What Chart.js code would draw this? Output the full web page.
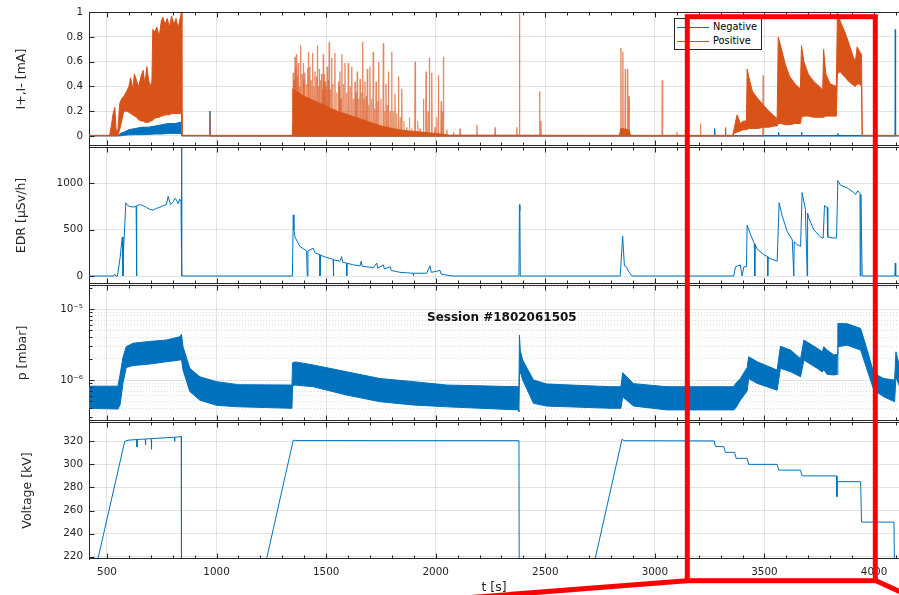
<!DOCTYPE html>
<html>
<head>
<meta charset="utf-8">
<script src="https://cdn.jsdelivr.net/npm/chart.js@4.4.1/dist/chart.umd.min.js"></script>
<style>
  html, body { margin: 0; padding: 0; background: #fff; }
  #wrap { position: relative; width: 899px; height: 595px; overflow: hidden; }
  canvas { position: absolute; left: 0; top: 0; }
  #session { position: absolute; left: 427px; top: 310px; font: bold 12px "DejaVu Sans", sans-serif; color: #111; white-space: nowrap; }
  #legend { position: absolute; left: 674px; top: 18px; width: 86px; height: 30px; border: 1px solid #262626; background: #fff; font: 9.8px "DejaVu Sans", sans-serif; color: #000; }
  #legend .item { position: absolute; left: 2px; height: 12px; line-height: 12px; white-space: nowrap; }
  #legend .swatch { display: inline-block; width: 32px; border-top: 1px solid; vertical-align: middle; margin-right: 4px; }
  #marker { position: absolute; left: 0; top: 0; pointer-events: none; }
</style>
</head>
<body>
<div id="wrap">
  <canvas id="pCurrent" width="899" height="595"></canvas>
  <canvas id="pEdr" width="899" height="595"></canvas>
  <canvas id="pPressure" width="899" height="595"></canvas>
  <canvas id="pVoltage" width="899" height="595"></canvas>
  <div id="session">Session #1802061505</div>
  <div id="legend">
    <div class="item" style="top:2px"><span class="swatch" style="border-color:#0072BD"></span>Negative</div>
    <div class="item" style="top:16px"><span class="swatch" style="border-color:#D95319"></span>Positive</div>
  </div>
  <svg id="marker" width="899" height="595">
    <line x1="687" y1="580.8" x2="455" y2="598.7" stroke="#ff0000" stroke-width="5"/>
    <line x1="876" y1="580.8" x2="912" y2="597" stroke="#ff0000" stroke-width="5"/>
    <rect x="687.3" y="16.7" width="188" height="564" fill="none" stroke="#ff0000" stroke-width="5"/>
  </svg>
</div>
<script>
const BLUE = "#0072BD";
const ORANGE = "#D95319";
const AXIS = "#262626";
const GRID = "rgba(38,38,38,0.13)";
const GRID_MINOR = "rgba(38,38,38,0.16)";
const FONT = "'DejaVu Sans', sans-serif";

// time axis
const T_MIN = 418;
const T_MAX = 4114;
const timeTicks = [500, 1000, 1500, 2000, 2500, 3000, 3500, 4000];

// tick labels per panel
const currentTicks = [0, 0.2, 0.4, 0.6, 0.8, 1];
const edrTicks = [0, 500, 1000];
const pressureTicks = [1e-6, 1e-5];
const pressureMinorTicks = [3e-7, 4e-7, 5e-7, 6e-7, 7e-7, 8e-7, 9e-7,
  2e-6, 3e-6, 4e-6, 5e-6, 6e-6, 7e-6, 8e-6, 9e-6, 2e-5];
const voltTicks = [220, 240, 260, 280, 300, 320];

// positive current: band (upper / lower envelope) [mA]
const posT = [418, 512, 520, 528, 536, 541, 549, 558, 567, 577, 590, 600, 608, 618, 625, 636, 645, 655, 665, 673,
  682, 690, 698, 705, 709, 718, 728, 738, 748, 755, 765, 775, 785, 795, 805, 815, 825, 835, 840, 842,
  1345, 1348, 1400, 1450, 1500, 1550, 1600, 1650, 1700, 1750, 1800, 1850, 1900, 2000, 2060, 2838, 2845, 2880, 2890, 3355,
  3362, 3375, 3390, 3405, 3418, 3421, 3428, 3445, 3470, 3495, 3520, 3545, 3558, 3563, 3575, 3595, 3615, 3640, 3664, 3669,
  3680, 3700, 3725, 3750, 3766, 3770, 3780, 3800, 3828, 3833, 3845, 3865, 3885, 3905, 3915, 3923, 3935, 3943, 3946, 4114];
const posHi = [.004, .004, .08, .18, .23, .06, .03, .26, .3, .32, .36, .4, .47, .38, .5, .44, .4, .48, .53, .42,
  .56, .45, .4, .44, .86, .84, .88, .8, .93, .96, .9, .95, .88, .97, .9, .95, .87, .96, 1.0, .004,
  .004, .38, .32, .28, .24, .2, .17, .14, .11, .08, .06, .045, .035, .02, .006, .004, .06, .05, .004, .004,
  .06, .17, .1, .12, .12, .54, .48, .36, .3, .25, .2, .16, .14, .8, .72, .58, .48, .42, .38, .73,
  .6, .5, .44, .4, .37, .7, .5, .42, .4, 1.0, .93, .85, .75, .64, .6, .72, .68, .66, .004, .004];
const posLo = [0, 0, 0, 0, 0, 0, 0, .05, .12, .2, .2, .19, .18, .17, .16, .15, .13, .12, .12, .11,
  .11, .11, .12, .12, .13, .14, .15, .15, .16, .16, .17, .17, .17, .18, .18, .18, .18, .18, .18, 0,
  0, 0, 0, 0, 0, 0, 0, 0, 0, 0, 0, 0, 0, 0, 0, 0, 0, 0, 0, 0,
  .02, .03, .04, .05, .05, .05, .06, .06, .06, .07, .07, .08, .08, .1, .1, .09, .09, .1, .1, .15,
  .16, .16, .15, .15, .15, .15, .16, .16, .16, .5, .52, .48, .44, .41, .4, .42, .42, .4, 0, 0];
// positive current: individual spikes [mA]
const posSpikeT = [970, 1350, 1358, 1365, 1373, 1384, 1396, 1403, 1419, 1426, 1438,
  1449, 1460, 1469, 1479, 1487, 1495, 1505, 1514, 1525, 1540,
  1556, 1563, 1572, 1586, 1601, 1617, 1632, 1642, 1655, 1667,
  1677, 1688, 1700, 1715, 1728, 1740, 1761, 1773, 1784, 1799,
  1814, 1830, 1845, 1868, 1891, 1906, 1929, 1944, 1956, 1971,
  1982, 1997, 2012, 2025, 2035, 2051, 2081, 2111, 2188, 2271,
  2370, 2382, 2474, 2480, 2845, 2854, 2865, 2876, 2882, 3034,
  3101, 3208, 3322, 3494];
const posSpikeV = [.18, .51, .64, .66, .59, .73, .59, .51, .68, .56, .67,
  .52, .73, .54, .50, .66, .44, .56, .76, .63, .67,
  .44, .52, .66, .59, .59, .56, .44, .52, .46, .76,
  .44, .54, .56, .68, .44, .60, .75, .42, .52, .68,
  .34, .48, .38, .07, .06, .60, .06, .30, .52, .63,
  .51, .07, .49, .28, .64, .05, .03, .06, .09, .07,
  .07, .99, .36, .12, .71, .68, .54, .54, .32, .45,
  .03, .10, .07, .49];
// positive current: smaller spikes in the dense stretch [mA]
const posMinorT = [1354, 1362, 1369, 1378, 1390, 1399, 1410, 1415, 1431, 1444,
  1455, 1465, 1474, 1483, 1491, 1500, 1510, 1519, 1531, 1548,
  1560, 1568, 1579, 1594, 1609, 1624, 1637, 1648, 1661, 1672,
  1683, 1694, 1707, 1721, 1734, 1750, 1767, 1779, 1792, 1806,
  1822, 1838, 1855, 1880, 1918, 1965, 2005, 2030];
const posMinorV = [.45, .55, .48, .40, .50, .45, .42, .55, .45, .40,
  .48, .40, .45, .38, .50, .40, .45, .38, .42, .35,
  .40, .30, .42, .35, .40, .30, .35, .30, .35, .30,
  .32, .25, .30, .22, .28, .30, .20, .25, .20, .20,
  .18, .15, .12, .15, .12, .20, .15, .20];

// negative current [mA]
const negT = [418, 555, 560, 577, 600, 630, 660, 690, 720, 750, 780, 810, 838, 841, 1345, 1348, 1380, 1430, 1500, 1580, 1680, 1800, 1960, 1990, 4114];
const negHi = [.003, .003, .02, .03, .05, .06, .07, .07, .08, .09, .1, .1, .11, .003, .003, .085, .07, .05, .035, .02, .012, .008, .004, .003, .003];
const negLo = [0, 0, 0, .005, .008, .01, .01, .012, .015, .015, .02, .02, .02, 0, 0, 0, 0, 0, 0, 0, 0, 0, 0, 0, 0];
const negSpikeT = [970, 2845, 3273, 3322, 3565, 3670, 3835, 4097];
const negSpikeV = [.2, .05, .06, .06, .03, .03, .02, .86];

// EDR [uSv/h]
const edrT = [418, 530, 535, 540, 548, 560, 570, 573, 576, 586, 595, 604, 619, 633, 634, 636, 637, 650, 665, 680,
  695, 710, 725, 741, 756, 771, 779, 790, 802, 810, 817, 825, 832, 838, 840, 842,
  1346, 1350, 1353, 1358, 1380, 1411, 1414, 1417, 1441, 1449, 1471, 1472, 1474, 1502, 1532, 1533, 1535, 1563, 1571, 1575,
  1593, 1594, 1596, 1625, 1655, 1660, 1665, 1716, 1731, 1736, 1761, 1766, 1792, 1797, 1837, 1897, 1898, 1900, 1959, 1974,
  1980, 2020, 2025, 2051, 2081,
  2380, 2382, 2384, 2386, 2842, 2853, 2861, 2870, 2880, 2896,
  3360, 3368, 3390, 3398, 3406, 3418, 3421, 3436, 3454, 3456, 3457, 3467, 3497, 3514, 3515, 3517, 3535, 3558, 3567, 3581,
  3604, 3627, 3634, 3636, 3649, 3665, 3672, 3687, 3695, 3697, 3703, 3725, 3756, 3768, 3774, 3786, 3789, 3817, 3829, 3835,
  3847, 3878, 3908, 3916, 3926, 3936, 3937, 3940, 3946, 4095, 4097, 4099, 4114];
const edrV = [0, 0, 20, 0, 0, 200, 420, 0, 300, 790, 760, 750, 745, 750, 0, 0, 760, 770, 760, 740,
  720, 710, 730, 740, 760, 770, 860, 770, 800, 840, 820, 780, 830, 800, 1392, 0,
  0, 660, 500, 420, 320, 270, 0, 270, 300, 250, 230, 0, 225, 200, 180, 0, 175, 160, 210, 150,
  140, 0, 138, 120, 110, 160, 105, 90, 140, 85, 120, 75, 100, 60, 40, 30, 0, 30, 30, 110,
  40, 60, 20, 10, 0,
  0, 770, 700, 0, 0, 430, 110, 100, 50, 0,
  0, 100, 120, 0, 100, 100, 550, 450, 350, 0, 340, 290, 230, 210, 0, 200, 180, 160, 790, 650,
  480, 390, 0, 370, 340, 320, 900, 720, 0, 680, 620, 500, 420, 410, 760, 740, 420, 410, 410, 1030,
  980, 950, 900, 880, 920, 890, 0, 880, 0, 0, 140, 0, 0];

// pressure band [mbar]
const presT = [418, 550, 560, 573, 588, 619, 695, 771, 832, 840,
  847, 878, 924, 1000, 1100, 1344, 1347, 1360, 1441, 1593,
  1746, 1898, 2051, 2378, 2380, 2382, 2386, 2397, 2446, 2507,
  2800, 2845, 2853, 2903, 3055, 3360, 3368, 3390, 3421, 3428,
  3467, 3558, 3573, 3619, 3665, 3680, 3741, 3764, 3771, 3786,
  3817, 3832, 3835, 3878, 3939, 3969, 3999, 4045, 4094, 4100, 4117];
const presHi = [8.2e-7, 8.2e-7, 1.2e-6, 2.1e-6, 2.95e-6, 3.3e-6, 3.5e-6, 3.66e-6, 4.07e-6, 4.4e-6,
  2.95e-6, 1.46e-6, 1.11e-6, 9.5e-7, 8.6e-7, 8.5e-7, 1.75e-6, 1.8e-6, 1.63e-6, 1.31e-6,
  1.05e-6, 9.5e-7, 8.5e-7, 8.05e-7, 8e-7, 4.3e-6, 2.6e-6, 1.91e-6, 1.0e-6, 8.8e-7,
  8.05e-7, 8.05e-7, 1.27e-6, 8.9e-7, 8.05e-7, 8.05e-7, 8.9e-7, 1.05e-6, 1.5e-6, 2.13e-6,
  1.81e-6, 1.38e-6, 3.0e-6, 2.64e-6, 2.0e-6, 3.66e-6, 2.8e-6, 2.5e-6, 2.95e-6, 2.65e-6,
  2.25e-6, 2.3e-6, 6.27e-6, 6.2e-6, 5.34e-6, 2.64e-6, 1.24e-6, 1.05e-6, 1.0e-6, 2.5e-6, 1.54e-6];
const presLo = [4.0e-7, 3.9e-7, 4.5e-7, 9e-7, 1.5e-6, 1.6e-6, 1.68e-6, 1.81e-6, 1.91e-6, 1.95e-6,
  1.38e-6, 6.9e-7, 5.2e-7, 4.4e-7, 4.2e-7, 4.0e-7, 8.3e-7, 8.5e-7, 8.05e-7, 6.15e-7,
  4.95e-7, 4.45e-7, 4.2e-7, 3.8e-7, 3.6e-7, 1.2e-6, 1.3e-6, 1.0e-6, 4.7e-7, 4.3e-7,
  4.0e-7, 4.0e-7, 5.8e-7, 4.3e-7, 3.8e-7, 3.8e-7, 4.0e-7, 5.2e-7, 7e-7, 1.05e-6,
  8.97e-7, 7.2e-7, 1.46e-6, 1.31e-6, 1.11e-6, 1.91e-6, 1.46e-6, 1.3e-6, 1.4e-6, 1.2e-6,
  1.18e-6, 1.2e-6, 2.95e-6, 3.1e-6, 2.64e-6, 1.38e-6, 7.2e-7, 5.8e-7, 4.95e-7, 1.11e-6, 8e-7];

// voltage [kV]
const voltT = [437, 581, 600, 636, 637, 638, 675, 676, 677, 702,
  703, 704, 808, 809, 810, 839, 840, 1207, 1350, 1360,
  2380, 2381, 2706, 2850, 2860, 3271, 3276, 3314, 3322, 3364,
  3371, 3421, 3428, 3558, 3565, 3664, 3672, 3829, 3831, 3833,
  3939, 3943, 4091, 4094];
const voltV = [200, 320, 321, 321.5, 315, 321.5, 322, 317, 322, 322.3,
  313, 322.3, 323.5, 320, 323.5, 324, 200, 200, 321, 320.6,
  320.5, 200, 200, 321.7, 320.5, 320.3, 315.4, 315.4, 310.4, 310.4,
  305.2, 305.2, 300, 300, 295, 295, 290, 290, 272, 285,
  285, 250, 250, 200];

Chart.defaults.font.family = FONT;
Chart.defaults.font.size = 10.4;
Chart.defaults.color = AXIS;

const TITLE_FONT = { size: 12.5 };

const points = (t, v) => t.map((x, i) => ({ x, y: v[i] }));
const spikes = (t, v) => t.flatMap((x, i) => [{ x: x - 1.5, y: 0 }, { x, y: v[i] }, { x: x + 1.5, y: 0 }]);

function line(data, color, extra) {
  return Object.assign({
    data, borderColor: color, backgroundColor: color, borderWidth: 1,
    pointRadius: 0, tension: 0, fill: false, yAxisID: "y",
  }, extra || {});
}

// MATLAB style box with inward ticks
const boxTicks = {
  id: "boxTicks",
  afterDatasetsDraw(chart, args, opts) {
    const { ctx, chartArea: a, scales } = chart;
    const x = scales.x, y = scales.y;
    const top = Math.round(a.top) + 0.5;
    const bot = Math.round(a.bottom) - 0.5;
    const left = Math.round(a.left) + 0.5;
    ctx.save();
    ctx.strokeStyle = AXIS;
    ctx.lineWidth = 1;
    ctx.beginPath();
    ctx.moveTo(a.left, top); ctx.lineTo(a.right, top);
    ctx.moveTo(a.left, bot); ctx.lineTo(a.right, bot);
    for (let v = 500; v <= T_MAX; v += 100) {
      const px = Math.round(x.getPixelForValue(v)) + 0.5;
      const len = v % 500 === 0 ? 5 : 3;
      ctx.moveTo(px, top); ctx.lineTo(px, top + len);
      ctx.moveTo(px, bot); ctx.lineTo(px, bot - len);
    }
    (opts.major || []).forEach(v => {
      const py = Math.round(y.getPixelForValue(v)) + 0.5;
      ctx.moveTo(left, py); ctx.lineTo(left + 5, py);
    });
    (opts.minor || []).forEach(v => {
      const py = Math.round(y.getPixelForValue(v)) + 0.5;
      ctx.moveTo(left, py); ctx.lineTo(left + 3, py);
    });
    ctx.stroke();
    ctx.restore();
  }
};

function panel(id, cfg) {
  const showTime = !!cfg.showTime;
  const scales = {
    x: {
      type: "linear", min: T_MIN, max: T_MAX, bounds: "data",
      afterBuildTicks: s => { s.ticks = timeTicks.map(value => ({ value })); },
      afterFit: s => { s.height = showTime ? 595 - cfg.bottom : 0; },
      grid: { color: GRID, drawTicks: false },
      border: { display: false },
      ticks: { display: showTime, padding: 7, autoSkip: false, maxRotation: 0, callback: v => String(v) },
      title: { display: showTime, text: "t [s]", padding: 0, font: TITLE_FONT },
    },
    y: {
      type: cfg.yType || "linear", position: "left", min: cfg.yMin, max: cfg.yMax, bounds: "data",
      afterBuildTicks: s => { s.ticks = cfg.yTicks.map(value => ({ value })); },
      afterFit: s => { s.width = 89; },
      grid: { color: GRID, drawTicks: false },
      border: { display: true, color: AXIS, width: 1 },
      ticks: { padding: 6, autoSkip: false, callback: cfg.yLabel || (v => String(v)) },
      title: { display: true, text: cfg.yTitle, padding: { top: cfg.titlePad, bottom: 0 }, font: TITLE_FONT },
    },
  };
  if (cfg.yMinor) {
    scales.yMinor = {
      type: cfg.yType, position: "left", min: cfg.yMin, max: cfg.yMax, bounds: "data",
      afterBuildTicks: s => { s.ticks = cfg.yMinor.map(value => ({ value })); },
      afterFit: s => { s.width = 0; },
      grid: { color: GRID_MINOR, drawTicks: false },
      border: { display: false, dash: [1, 2] },
      ticks: { display: false },
    };
  }
  return new Chart(document.getElementById(id), {
    type: "line",
    data: { datasets: cfg.datasets },
    plugins: [boxTicks],
    options: {
      responsive: false,
      animation: false,
      events: [],
      layout: { padding: { top: cfg.top, bottom: showTime ? 0 : 595 - cfg.bottom, left: 0, right: 0 } },
      scales,
      plugins: {
        legend: { display: false },
        tooltip: { enabled: false },
        boxTicks: { major: cfg.yTicks, minor: cfg.yMinor || [] },
      },
    },
  });
}

panel("pCurrent", {
  top: 10, bottom: 146, yMin: -0.082, yMax: 1, yTicks: currentTicks,
  yTitle: "I+,I- [mA]", titlePad: 14.2,
  datasets: [
    line(points(posT, posHi), ORANGE, { fill: "+1" }),
    line(points(posT, posLo), ORANGE),
    line(spikes(posSpikeT, posSpikeV), "rgba(217,83,25,0.7)", { borderWidth: 1.3 }),
    line(spikes(posMinorT, posMinorV), "rgba(217,83,25,0.6)", { borderWidth: 1.3 }),
    line(points(negT, negHi), BLUE, { fill: "+1" }),
    line(points(negT, negLo), BLUE),
    line(spikes(negSpikeT, negSpikeV), BLUE),
  ],
});

panel("pEdr", {
  top: 147, bottom: 284, yMin: -86, yMax: 1392, yTicks: edrTicks,
  yTitle: "EDR [\u03BCSv/h]", titlePad: 14.2,
  datasets: [line(points(edrT, edrV), BLUE)],
});

panel("pPressure", {
  top: 285, bottom: 421, yType: "logarithmic", yMin: 2.65e-7, yMax: 2.18e-5,
  yTicks: pressureTicks, yMinor: pressureMinorTicks,
  yLabel: v => (v === 1e-5 ? "10\u207B\u2075" : v === 1e-6 ? "10\u207B\u2076" : ""),
  yTitle: "p [mbar]", titlePad: 15.5,
  datasets: [
    line(points(presT, presHi), BLUE, { fill: "+1" }),
    line(points(presT, presLo), BLUE),
  ],
});

panel("pVoltage", {
  top: 422, bottom: 559, yMin: 218, yMax: 336.7, yTicks: voltTicks, showTime: true,
  yTitle: "Voltage [kV]", titlePad: 20.2,
  datasets: [line(points(voltT, voltV), BLUE)],
});
</script>
</body>
</html>
